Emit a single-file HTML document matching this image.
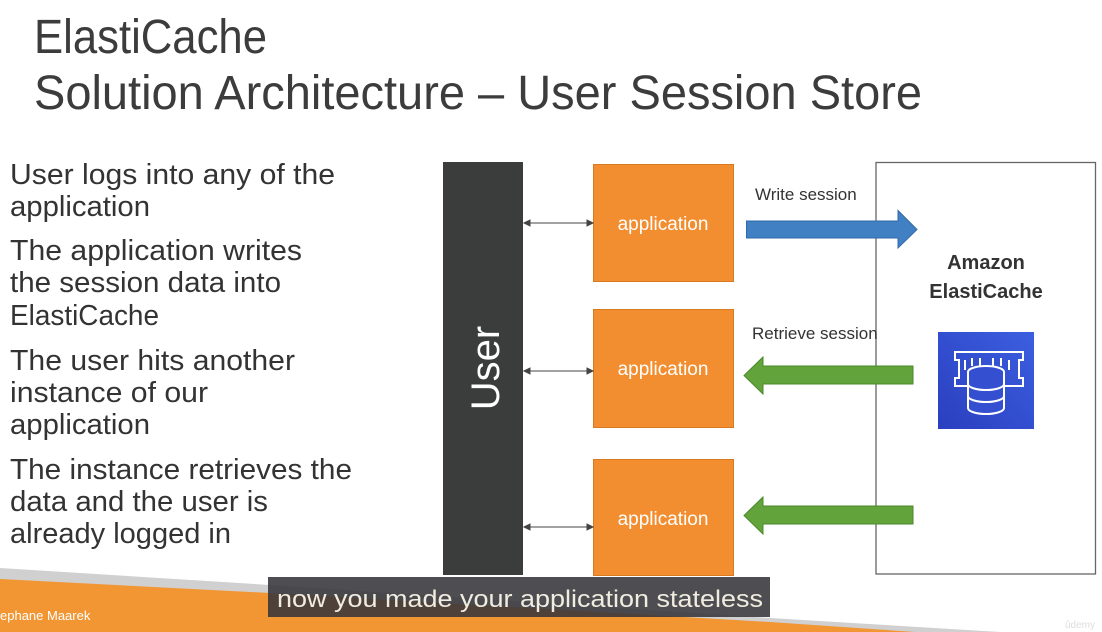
<!DOCTYPE html>
<html><head><meta charset="utf-8"><style>
html,body{margin:0;padding:0;background:#fff;width:1102px;height:632px;overflow:hidden}
svg{display:block}
</style></head><body>
<svg width="1102" height="632" viewBox="0 0 1102 632" xmlns="http://www.w3.org/2000/svg" font-family="Liberation Sans, sans-serif">
<!-- bottom decoration -->
<polygon points="0,568 270,585 770,618 1000,632 0,632" fill="#d0d0d0"/>
<polygon points="0,579 270,593 770,622 915,632 0,632" fill="#f29533"/>
<g fill="#3c3c3c" font-weight="normal">
<text x="34" y="53" font-size="48" textLength="233" lengthAdjust="spacingAndGlyphs">ElastiCache</text>
<text x="34" y="109" font-size="48" textLength="888" lengthAdjust="spacingAndGlyphs">Solution Architecture – User Session Store</text>
</g>
<g fill="#333" font-size="29">
<text x="10" y="184" textLength="325" lengthAdjust="spacingAndGlyphs">User logs into any of the</text>
<text x="10" y="216" textLength="140" lengthAdjust="spacingAndGlyphs">application</text>
<text x="10" y="260" textLength="292" lengthAdjust="spacingAndGlyphs">The application writes</text>
<text x="10" y="292" textLength="271" lengthAdjust="spacingAndGlyphs">the session data into</text>
<text x="10" y="325" textLength="149" lengthAdjust="spacingAndGlyphs">ElastiCache</text>
<text x="10" y="370" textLength="285" lengthAdjust="spacingAndGlyphs">The user hits another</text>
<text x="10" y="402" textLength="198" lengthAdjust="spacingAndGlyphs">instance of our</text>
<text x="10" y="434" textLength="140" lengthAdjust="spacingAndGlyphs">application</text>
<text x="10" y="479" textLength="342" lengthAdjust="spacingAndGlyphs">The instance retrieves the</text>
<text x="10" y="511" textLength="258" lengthAdjust="spacingAndGlyphs">data and the user is</text>
<text x="10" y="543" textLength="221" lengthAdjust="spacingAndGlyphs">already logged in</text>
</g>
<!-- user bar -->
<rect x="443" y="162" width="80" height="413" fill="#3a3d3c"/>
<text transform="translate(499,368) rotate(-90)" fill="#fff" font-size="40" text-anchor="middle">User</text>
<!-- elasticache box -->
<rect x="876" y="162.5" width="219.5" height="411.5" fill="#fff" stroke="#666" stroke-width="1.3"/>
<!-- apps -->
<g fill="#f28e30" stroke="#d77a20" stroke-width="1">
<rect x="593.5" y="164.5" width="140" height="117"/>
<rect x="593.5" y="309.5" width="140" height="118"/>
<rect x="593.5" y="459.5" width="140" height="116"/>
</g>
<g fill="#fff" font-size="19" text-anchor="middle">
<text x="663" y="230">application</text>
<text x="663" y="375">application</text>
<text x="663" y="525">application</text>
</g>
<!-- double arrows -->
<g stroke="#444" stroke-width="1" fill="#444">
<line x1="528" y1="223" x2="590" y2="223"/><polygon points="524,223 530,220 530,226"/><polygon points="593,223 587,220 587,226"/>
<line x1="528" y1="371" x2="590" y2="371"/><polygon points="524,371 530,368 530,374"/><polygon points="593,371 587,368 587,374"/>
<line x1="528" y1="527" x2="590" y2="527"/><polygon points="524,527 530,524 530,530"/><polygon points="593,527 587,524 587,530"/>
</g>
<!-- blue arrow -->
<polygon points="746.5,221 898,221 898,210.5 917,229.5 898,248 898,238 746.5,238" fill="#4280c4" stroke="#2f6aa8" stroke-width="1"/>
<!-- green arrows -->
<polygon points="913,366 763,366 763,357 744,375.5 763,394 763,384 913,384" fill="#62a33b" stroke="#4b8a2a" stroke-width="1"/>
<polygon points="913,506 763,506 763,497 744,515.5 763,534 763,524 913,524" fill="#62a33b" stroke="#4b8a2a" stroke-width="1"/>
<g fill="#333" font-size="17">
<text x="755" y="200">Write session</text>
<text x="752" y="339">Retrieve session</text>
</g>
<g fill="#333" font-size="20" font-weight="bold" text-anchor="middle">
<text x="986" y="269">Amazon</text>
<text x="986" y="298">ElastiCache</text>
</g>
<!-- icon -->
<defs><linearGradient id="g" x1="0" y1="1" x2="1" y2="0"><stop offset="0" stop-color="#2a3fbf"/><stop offset="1" stop-color="#3b5fe0"/></linearGradient></defs>
<rect x="938" y="332" width="96" height="97" fill="url(#g)"/>
<g fill="none" stroke="#fff" stroke-width="2">
<path d="M955,352 H1023 V360 H1019 V378 H1023 V386 H955 V378 H959 V360 H955 Z"/>
<path d="M965,360 V370 M972,358 V366 M980,358 V366 M993,358 V366 M1001,358 V366 M1009,360 V370"/>
<ellipse cx="986" cy="372" rx="18" ry="6" fill="#3450d0"/>
<path d="M968,372 V408 A18,6 0 0 0 1004,408 V372" fill="#3450d0"/>
<path d="M968,384 A18,6 0 0 0 1004,384 M968,396 A18,6 0 0 0 1004,396"/>
</g>
<!-- caption -->
<rect x="268" y="577" width="502" height="40" fill="#36353a" fill-opacity="0.88"/>
<text x="277" y="607" fill="#f0ece0" font-size="24" textLength="486" lengthAdjust="spacingAndGlyphs">now you made your application stateless</text>
<text x="0" y="620" fill="#fff" font-size="13">ephane Maarek</text>
<text x="1065" y="628" fill="#ddd" font-size="10">ûdemy</text>
</svg>
</body></html>
